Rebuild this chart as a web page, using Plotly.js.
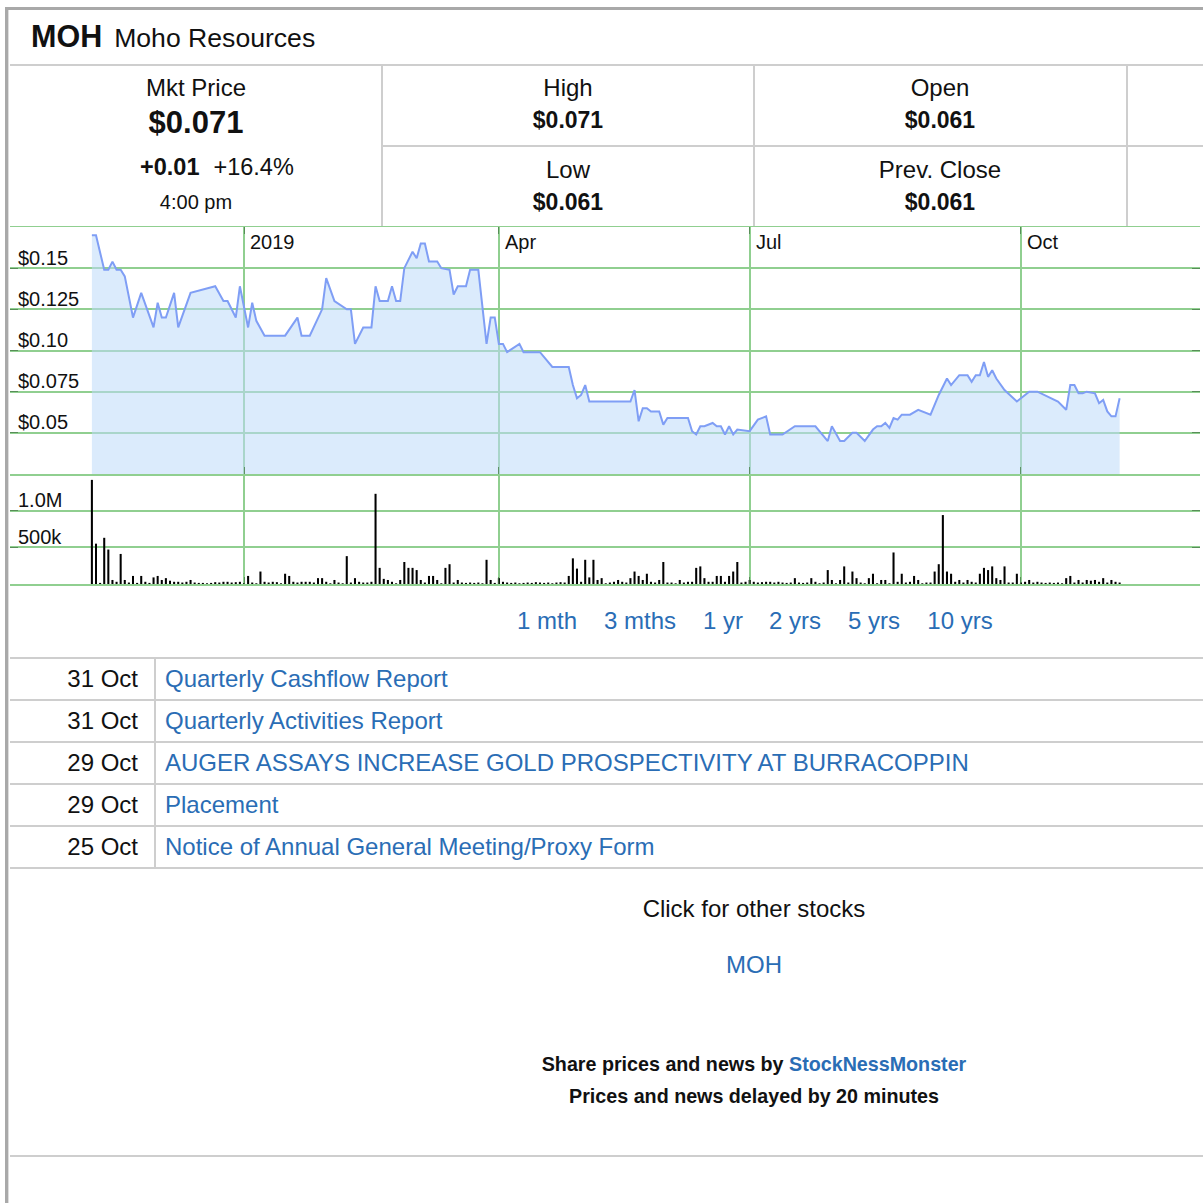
<!DOCTYPE html>
<html><head><meta charset="utf-8">
<script src="https://cdn.plot.ly/plotly-3.0.1.min.js"></script>
<style>
html,body{margin:0;padding:0;background:#fff;width:1203px;height:1203px;overflow:hidden;font-family:"Liberation Sans",Arial,Helvetica,sans-serif;color:#111;}
.a{position:absolute;white-space:nowrap;}
.c{position:absolute;white-space:nowrap;text-align:center;width:400px;}
.w{position:absolute;white-space:nowrap;text-align:center;width:700px;}
.r{position:absolute;white-space:nowrap;text-align:right;width:200px;}
.ln{position:absolute;background:#cecece;}
.blue{color:#2a6db5;}
#chart{position:absolute;left:10px;top:226px;width:1190px;height:360px;}
</style></head><body>

<!-- frame -->
<div class="ln" style="left:5px;top:7px;width:1198px;height:3px;background:#a9a9a9"></div>
<div class="ln" style="left:5px;top:7px;width:3px;height:1196px;background:#a9a9a9"></div>
<div class="ln" style="left:8px;top:10px;width:1px;height:1193px;background:#dedede"></div>

<!-- header -->
<div class="a" style="left:31px;top:18px;line-height:36px;height:36px;"><b style="font-size:30.5px">MOH</b><span style="font-size:26.6px;margin-left:12px">Moho Resources</span></div>
<div class="ln" style="left:10px;top:64px;width:1193px;height:2px"></div>

<!-- quote cells -->
<div class="ln" style="left:381px;top:66px;width:2px;height:160px"></div>
<div class="ln" style="left:753px;top:66px;width:2px;height:160px"></div>
<div class="ln" style="left:1126px;top:66px;width:2px;height:160px"></div>
<div class="ln" style="left:383px;top:145px;width:820px;height:2px"></div>

<div class="c" style="left:-4px;top:73px;line-height:30px;font-size:24px">Mkt Price</div>
<div class="c" style="left:-4px;top:105px;line-height:36px;font-size:31px;font-weight:bold">$0.071</div>
<div class="a" style="left:140px;top:152px;line-height:30px;font-size:23.5px"><b>+0.01</b><span style="margin-left:14px">+16.4%</span></div>
<div class="c" style="left:-4px;top:189px;line-height:26px;font-size:20px">4:00 pm</div>

<div class="c" style="left:368px;top:73px;line-height:30px;font-size:24px">High</div>
<div class="c" style="left:368px;top:105px;line-height:30px;font-size:23px;font-weight:bold">$0.071</div>
<div class="c" style="left:368px;top:155px;line-height:30px;font-size:24px">Low</div>
<div class="c" style="left:368px;top:187px;line-height:30px;font-size:23px;font-weight:bold">$0.061</div>

<div class="c" style="left:740px;top:73px;line-height:30px;font-size:24px">Open</div>
<div class="c" style="left:740px;top:105px;line-height:30px;font-size:23px;font-weight:bold">$0.061</div>
<div class="c" style="left:740px;top:155px;line-height:30px;font-size:24px">Prev. Close</div>
<div class="c" style="left:740px;top:187px;line-height:30px;font-size:23px;font-weight:bold">$0.061</div>

<div id="chart"></div>

<!-- range links -->
<div class="c blue" style="left:347px;top:606px;line-height:30px;font-size:24px">1 mth</div>
<div class="c blue" style="left:440px;top:606px;line-height:30px;font-size:24px">3 mths</div>
<div class="c blue" style="left:523px;top:606px;line-height:30px;font-size:24px">1 yr</div>
<div class="c blue" style="left:595px;top:606px;line-height:30px;font-size:24px">2 yrs</div>
<div class="c blue" style="left:674px;top:606px;line-height:30px;font-size:24px">5 yrs</div>
<div class="c blue" style="left:760px;top:606px;line-height:30px;font-size:24px">10 yrs</div>

<!-- news -->
<div class="ln" style="left:10px;top:657px;width:1193px;height:2px"></div>
<div class="ln" style="left:10px;top:699px;width:1193px;height:2px"></div>
<div class="ln" style="left:10px;top:741px;width:1193px;height:2px"></div>
<div class="ln" style="left:10px;top:783px;width:1193px;height:2px"></div>
<div class="ln" style="left:10px;top:825px;width:1193px;height:2px"></div>
<div class="ln" style="left:10px;top:867px;width:1193px;height:2px"></div>
<div class="ln" style="left:154px;top:659px;width:2px;height:208px"></div>

<div class="r" style="left:-62px;top:664px;line-height:30px;font-size:24px">31 Oct</div>
<div class="a blue" style="left:165px;top:664px;line-height:30px;font-size:24px">Quarterly Cashflow Report</div>
<div class="r" style="left:-62px;top:706px;line-height:30px;font-size:24px">31 Oct</div>
<div class="a blue" style="left:165px;top:706px;line-height:30px;font-size:24px">Quarterly Activities Report</div>
<div class="r" style="left:-62px;top:748px;line-height:30px;font-size:24px">29 Oct</div>
<div class="a blue" style="left:165px;top:748px;line-height:30px;font-size:24px">AUGER ASSAYS INCREASE GOLD PROSPECTIVITY AT BURRACOPPIN</div>
<div class="r" style="left:-62px;top:790px;line-height:30px;font-size:24px">29 Oct</div>
<div class="a blue" style="left:165px;top:790px;line-height:30px;font-size:24px">Placement</div>
<div class="r" style="left:-62px;top:832px;line-height:30px;font-size:24px">25 Oct</div>
<div class="a blue" style="left:165px;top:832px;line-height:30px;font-size:24px">Notice of Annual General Meeting/Proxy Form</div>

<!-- footer -->
<div class="w" style="left:404px;top:894px;line-height:30px;font-size:24px">Click for other stocks</div>
<div class="w blue" style="left:404px;top:950px;line-height:30px;font-size:24px">MOH</div>
<div class="w" style="left:404px;top:1051px;line-height:26px;font-size:19.7px;font-weight:bold">Share prices and news by <span class="blue">StockNessMonster</span></div>
<div class="w" style="left:404px;top:1083px;line-height:26px;font-size:19.7px;font-weight:bold">Prices and news delayed by 20 minutes</div>
<div class="ln" style="left:10px;top:1155px;width:1193px;height:2px"></div>

<script>
// Daily closing price vertices: [trading-day index, price $]
const pricePoints = [
 [0,0.170],[1,0.170],[3,0.149],[4,0.149],[5,0.154],[6,0.149],[7,0.149],[8,0.145],[10,0.120],[12,0.135],
 [15,0.114],[16,0.129],[17,0.120],[18,0.120],[20,0.135],[21,0.114],[24,0.135],[30,0.139],[32,0.130],[33,0.130],
 [35,0.120],[36,0.139],[38,0.114],[39,0.129],[40,0.118],[42,0.109],[47,0.109],[50,0.120],[51,0.109],[53,0.109],
 [56,0.125],[57,0.144],[59,0.130],[62,0.125],[63,0.125],[64,0.104],[66,0.114],[68,0.114],[69,0.139],[70,0.130],
 [72,0.130],[73,0.139],[74,0.130],[75,0.130],[76,0.150],[78,0.160],[79,0.156],[80,0.165],[81,0.165],[82,0.154],
 [84,0.154],[85,0.150],[87,0.149],[88,0.134],[89,0.139],[91,0.139],[92,0.149],[94,0.149],[96,0.104],[97,0.120],
 [98,0.120],[99,0.104],[100,0.104],[101,0.099],[104,0.104],[105,0.099],[109,0.099],[112,0.090],[116,0.090],[117,0.079],
 [118,0.071],[119,0.073],[120,0.079],[121,0.069],[131,0.069],[132,0.076],[133,0.057],[134,0.065],[135,0.065],[136,0.063],
 [138,0.063],[139,0.055],[140,0.059],[145,0.059],[146,0.051],[147,0.049],[148,0.054],[149,0.054],[151,0.056],[152,0.054],
 [153,0.054],[154,0.049],[155,0.054],[156,0.049],[157,0.052],[160,0.051],[162,0.058],[164,0.060],[165,0.049],[168,0.049],
 [171,0.054],[176,0.054],[179,0.045],[180,0.054],[182,0.045],[183,0.045],[185,0.050],[186,0.050],[188,0.045],[190,0.052],
 [191,0.054],[192,0.054],[193,0.056],[194,0.053],[195,0.059],[196,0.058],[197,0.061],[199,0.061],[201,0.064],[204,0.061],
 [206,0.073],[208,0.083],[209,0.079],[211,0.085],[213,0.085],[214,0.081],[215,0.085],[216,0.085],[217,0.093],[218,0.084],
 [219,0.088],[220,0.083],[222,0.076],[225,0.069],[228,0.075],[230,0.075],[235,0.069],[237,0.064],[238,0.079],[239,0.079],
 [240,0.074],[241,0.074],[242,0.075],[244,0.074],[245,0.068],[246,0.070],[247,0.063],[248,0.060],[249,0.060],[250,0.071]
];

// Daily traded volume, thousands of shares (one per trading day)
const volumeK = [
 1420,550,15,630,470,55,30,410,55,20,
 110,15,110,30,15,90,110,55,80,45,
 30,30,20,30,55,20,15,15,10,15,
 25,20,30,30,20,25,30,10,110,20,
 10,170,30,20,30,25,10,140,110,30,
 20,30,30,30,20,80,80,30,10,55,
 20,10,380,20,80,30,20,20,30,1230,
 220,70,55,30,10,55,300,220,220,190,
 55,20,110,110,55,10,220,270,20,55,
 20,15,20,15,20,10,330,55,15,80,
 30,20,15,20,10,15,20,15,25,20,
 15,20,10,20,25,20,110,350,210,30,
 330,90,330,55,80,10,20,30,55,30,
 20,80,170,110,55,140,30,20,55,300,
 20,20,10,55,20,30,30,220,240,80,
 30,30,110,110,30,110,170,300,20,30,
 55,30,20,25,30,30,20,30,20,15,
 20,80,20,15,20,80,30,10,20,190,
 55,10,55,240,20,170,80,20,10,80,
 140,10,55,55,10,430,30,140,20,30,
 110,55,10,20,20,170,270,940,170,140,
 30,55,20,55,30,20,140,220,190,240,
 80,55,240,20,20,140,20,30,55,20,
 30,20,15,20,15,20,10,80,110,20,
 55,20,55,45,55,30,80,20,55,30,20
];

// Period boundaries (trading-day index) and their labels
const monthIdx = [37, 99, 160, 226];
const monthLabels = ['2019', 'Apr', 'Jul', 'Oct'];

const priceTickVals = [0.15, 0.125, 0.10, 0.075, 0.05];
const priceTickText = ['$0.15', '$0.125', '$0.10', '$0.075', '$0.05'];
const volTickVals = [1000000, 500000];
const volTickText = ['1.0M', '500k'];

const GRID = '#90cf90';
const TICK = 'rgba(70,120,70,0.75)';
const FONT = {family: 'Liberation Sans, Arial, sans-serif', size: 20, color: '#111'};

const dayIdx = volumeK.map((v, i) => i);

const traces = [
  {type: 'scatter', mode: 'lines',
   x: pricePoints.map(p => p[0]), y: pricePoints.map(p => p[1]),
   line: {color: '#7f9ef5', width: 2}, fill: 'tozeroy', fillcolor: 'rgba(190,218,249,0.55)',
   xaxis: 'x', yaxis: 'y', hoverinfo: 'skip'},
  {type: 'bar', x: dayIdx, y: volumeK.map(v => v * 1000), width: 0.5,
   marker: {color: '#000', line: {width: 0}}, xaxis: 'x2', yaxis: 'y2', hoverinfo: 'skip'}
];

const xCommon = {
  range: [-19.92, 269.55], showgrid: true, gridcolor: GRID, gridwidth: 2,
  tickmode: 'array', tickvals: monthIdx, showticklabels: false,
  ticks: 'inside', ticklen: 7, tickcolor: TICK, tickwidth: 1,
  showline: true, linecolor: GRID, linewidth: 2, zeroline: false, fixedrange: true
};
const yCommon = {
  showgrid: true, gridcolor: GRID, gridwidth: 2, showticklabels: false,
  ticks: 'inside', ticklen: 8, tickcolor: TICK, tickwidth: 1, mirror: 'ticks',
  zeroline: false, showline: false, fixedrange: true, tickmode: 'linear'
};

const annotations = [];
priceTickVals.forEach((v, i) => annotations.push({
  xref: 'paper', yref: 'y', x: 0, y: v, xanchor: 'left', yanchor: 'middle',
  xshift: 6, yshift: 10.5, text: priceTickText[i], showarrow: false, font: FONT}));
volTickVals.forEach((v, i) => annotations.push({
  xref: 'paper', yref: 'y2', x: 0, y: v, xanchor: 'left', yanchor: 'middle',
  xshift: 6, yshift: 10.5, text: volTickText[i], showarrow: false, font: FONT}));
monthIdx.forEach((v, i) => annotations.push({
  xref: 'x', yref: 'paper', x: v, y: 1, xanchor: 'left', yanchor: 'middle',
  xshift: 4, yshift: -15, text: monthLabels[i], showarrow: false, font: FONT}));

const layout = {
  width: 1190, height: 360, margin: {l: 0, r: 0, t: 1, b: 2},
  paper_bgcolor: 'rgba(0,0,0,0)', plot_bgcolor: '#fff', showlegend: false,
  xaxis: Object.assign({}, xCommon, {anchor: 'y', mirror: 'ticks'}),
  xaxis2: Object.assign({}, xCommon, {anchor: 'y2', matches: 'x', mirror: false}),
  yaxis: Object.assign({}, yCommon, {domain: [0.3081, 1], range: [0.025, 0.175], tick0: 0.025, dtick: 0.025}),
  yaxis2: Object.assign({}, yCommon, {domain: [0, 0.3081], range: [0, 1500000], tick0: 0, dtick: 500000}),
  annotations: annotations
};

Plotly.newPlot('chart', traces, layout, {staticPlot: true, displayModeBar: false});
</script>
</body></html>
